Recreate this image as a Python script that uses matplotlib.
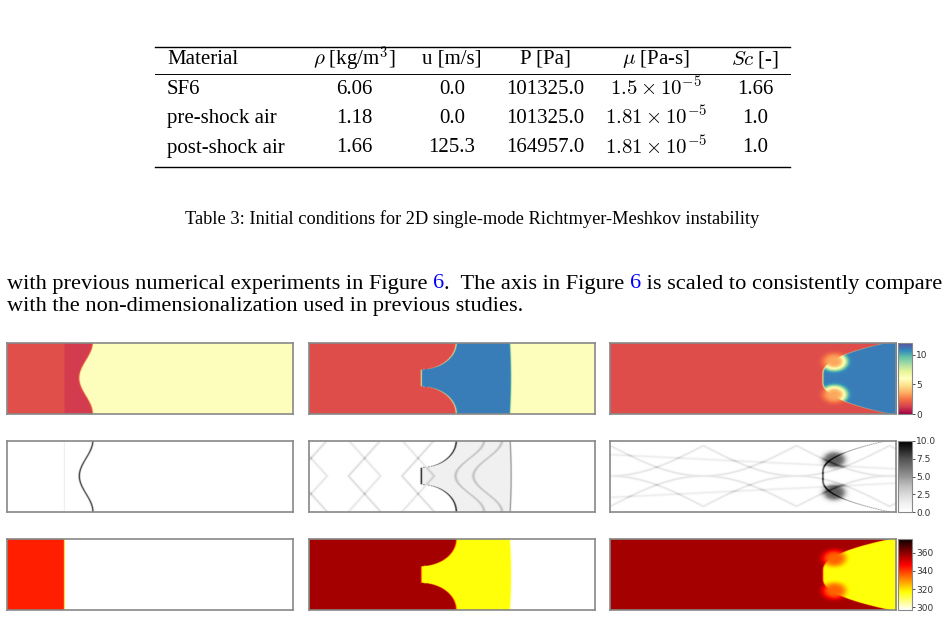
import numpy as np
import matplotlib
matplotlib.use("Agg")
import matplotlib.pyplot as plt

plt.rcParams['mathtext.fontset'] = 'cm'
plt.rcParams['font.family'] = ['Liberation Serif', 'DejaVu Serif']

W, H = 944, 618
fig = plt.figure(figsize=(W/100, H/100), dpi=100)

# ---------------- table data ----------------
headers = ["Material", r"$\rho$ [kg/m$^3$]", "u [m/s]", "P [Pa]", r"$\mu$ [Pa-s]", r"$Sc$ [-]"]
materials = ["SF6", "pre-shock air", "post-shock air"]
rho_vals = ["6.06", "1.18", "1.66"]
u_vals = ["0.0", "0.0", "125.3"]
p_vals = ["101325.0", "101325.0", "164957.0"]
mu_vals = [r"$1.5\times10^{-5}$", r"$1.81\times10^{-5}$", r"$1.81\times10^{-5}$"]
sc_vals = ["1.66", "1.0", "1.0"]
caption = "Table 3: Initial conditions for 2D single-mode Richtmyer-Meshkov instability"

def px(x, y):
    return x / W, 1 - y / H

fs = 15.0
col_x = [167, 354, 452, 545, 656, 755]
row_y = [59, 89, 118, 148]
for j, h in enumerate(headers):
    ha = 'left' if j == 0 else 'center'
    fig.text(*px(col_x[j], row_y[0]), h, ha=ha, va='center', fontsize=fs)
cols = [materials, rho_vals, u_vals, p_vals, mu_vals, sc_vals]
for i in range(3):
    for j, c in enumerate(cols):
        ha = 'left' if j == 0 else 'center'
        fig.text(*px(col_x[j], row_y[i+1]), c[i], ha=ha, va='center', fontsize=fs)
for yy, lw in [(47, 1.0), (74, 0.7), (167, 1.0)]:
    fig.add_artist(plt.Line2D([155/W, 790/W], [1-yy/H]*2, color='black', lw=lw))
fig.text(*px(472, 219), caption, ha='center', va='center', fontsize=13.2)

# ---------------- body text with blue refs ----------------
renderer = fig.canvas.get_renderer()
def seq_text(x0, y0, pieces, size):
    x = x0
    for s, col in pieces:
        t = fig.text(x / W, 1 - y0 / H, s, color=col, fontsize=size, va='center', ha='left')
        bb = t.get_window_extent(renderer)
        x += bb.width
seq_text(7, 284, [("with previous numerical experiments in Figure ", 'black'), ("6", 'blue'),
                  (".  The axis in Figure ", 'black'), ("6", 'blue'),
                  (" is scaled to consistently compare", 'black')], 16.1)
seq_text(7, 307, [("with the non-dimensionalization used in previous studies.", 'black')], 16.1)

# ---------------- fields ----------------
nx, ny = 500, 125
xg = np.linspace(0, 4, nx)
yg = np.linspace(0, 1, ny)
X, Y = np.meshgrid(xg, yg)

iface_center = [1.105, 1.57, 2.97]
iface_edge = [None, 2.06, 3.89]
iface_amp = [0.095, None, None]
shock_pos = [0.80, 2.83, 4.10]
rho_levels = {"post_air": 1.66, "pre_air": 1.18, "sf6": 6.06, "sf6_shocked": 11.0, "air_late": 1.6}
T_levels = {"post_air": 343.0, "pre_air": 296.0, "sf6": 296.0, "sf6_shocked": 316.0, "air_hot": 357.0}

def interface(k):
    r = np.abs(Y - 0.5)
    if k == 0:
        return iface_center[0] + iface_amp[0] * np.cos(2 * np.pi * Y)
    if k == 1:
        q = np.clip((0.5 - r) / 0.38, 0, 1)
        return iface_center[1] + (iface_edge[1] - iface_center[1]) * np.sqrt(1 - q ** 2) * (r > 0.11)
    s = np.clip((r - 0.06) / 0.44, 0, 1)
    return iface_center[2] + (iface_edge[2] - iface_center[2]) * s ** 2.2

def smooth_step(d, w=0.008):
    return 0.5 * (1 + np.tanh(d / w))

def line(d, w=0.008):
    return np.exp(-(d / w) ** 2)

def fields(k):
    xi = interface(k)
    gas = smooth_step(X - xi)
    iline = line(X - xi, 0.012)
    if k == 0:
        sh = smooth_step(shock_pos[0] - X)
        rho = sh * rho_levels["post_air"] + (1 - sh) * rho_levels["pre_air"]
        rho = rho * (1 - gas) + gas * rho_levels["sf6"]
        T = sh * T_levels["post_air"] + (1 - sh) * T_levels["pre_air"]
        T = T * (1 - gas) + gas * T_levels["sf6"]
        g = 9.0 * iline + 2.0 * line(X - shock_pos[0], 0.006)
    elif k == 1:
        shx = shock_pos[1] - 0.015 * (2 * Y - 1) ** 2
        sh = smooth_step(shx - X)
        rho = (1 - gas) * rho_levels["air_late"] + gas * (sh * rho_levels["sf6_shocked"] + (1 - sh) * rho_levels["sf6"])
        T = (1 - gas) * T_levels["air_hot"] + gas * (sh * T_levels["sf6_shocked"] + (1 - sh) * T_levels["sf6"])
        g = 9.0 * iline + 5.0 * line(X - shx, 0.01)
        g = g + 1.2 * sh * gas
        for c in [-0.2, 0.55, 1.3]:
            g = g + 2.5 * line(X - c - 0.45 * np.abs(2 * Y - 1), 0.02)
            g = g + 2.0 * line(X - c - 0.45 * (1 - np.abs(2 * Y - 1)), 0.02)
        for c in [2.25, 2.5]:
            g = g + 2.5 * sh * line(X - c - 0.2 * np.cos(2 * np.pi * Y), 0.02)
    else:
        rho = (1 - gas) * rho_levels["air_late"] + gas * rho_levels["sf6_shocked"]
        T = (1 - gas) * T_levels["air_hot"] + gas * T_levels["sf6_shocked"]
        g = 8.5 * iline
        for yc in [0.27, 0.73]:
            cap = np.exp(-(((X - 3.13) / 0.17) ** 2 + ((Y - yc) / 0.12) ** 2) ** 2)
            rho = rho * (1 - cap) + cap * 3.5
            T = T * (1 - cap) + cap * 335
            g = g + 7.0 * cap
        for c in [0.0, 1.3]:
            d = np.abs(2 * Y - 1) - (0.85 - 0.85 * np.abs(np.sin(np.pi * (X - c) / 2.6)))
            g = g + 2.0 * line(d, 0.03)
        g = g + 1.5 * line(np.abs(2 * Y - 1) - 0.6 + 0.1 * X, 0.03)
    g = np.clip(g, 0, 10)
    return rho, g, T

cmaps = ['Spectral', 'Greys', 'hot_r']
vlims = [(0, 12), (0, 10), (297, 375)]
cb_ticks = [[0, 5, 10], [0.0, 2.5, 5.0, 7.5, 10.0], [300, 320, 340, 360]]
cb_labels = [["0", "5", "10"], ["0.0", "2.5", "5.0", "7.5", "10.0"], ["300", "320", "340", "360"]]

col_left = [7, 309, 610]
panel_w = 286
row_top = [343, 441, 539]
panel_h = 71

for k in range(3):
    data = fields(k)
    for r in range(3):
        ax = fig.add_axes([col_left[k] / W, 1 - (row_top[r] + panel_h) / H, panel_w / W, panel_h / H])
        im = ax.imshow(data[r], cmap=cmaps[r], vmin=vlims[r][0], vmax=vlims[r][1],
                       origin='lower', aspect='auto', extent=[0, 4, 0, 1], interpolation='bilinear')
        ax.set_xticks([]); ax.set_yticks([])
        for s in ax.spines.values():
            s.set_color('#888888'); s.set_linewidth(1.2)
        if k == 2:
            cax = fig.add_axes([898 / W, 1 - (row_top[r] + panel_h) / H, 14 / W, panel_h / H])
            cb = fig.colorbar(im, cax=cax)
            cb.set_ticks(cb_ticks[r])
            cb.set_ticklabels(cb_labels[r])
            cb.ax.tick_params(labelsize=6.5, length=2, width=0.6, pad=1, colors='#333333')
            cb.outline.set_edgecolor('#888888')
            for t in cb.ax.get_yticklabels():
                t.set_fontfamily('DejaVu Sans')

fig.savefig('out.png', dpi=100)
